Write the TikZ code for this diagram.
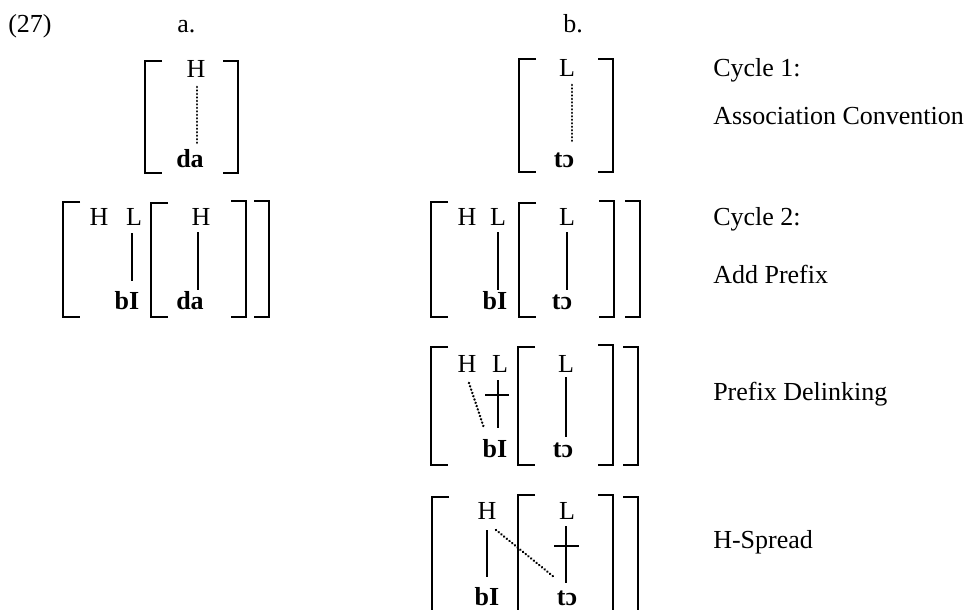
\documentclass[tikz,border=0pt]{standalone}
\usepackage{fontspec}
\setmainfont{Liberation Serif}
\begin{document}
\begin{tikzpicture}[x=0.75pt,y=-0.75pt,
  txt/.style={inner sep=0pt,anchor=base,font=\fontsize{19.5}{22}\selectfont},
  lbl/.style={inner sep=0pt,anchor=base west,font=\fontsize{19.5}{22}\selectfont},
  seg/.style={inner sep=0pt,anchor=base,font=\fontsize{19.5}{22}\selectfont\bfseries},
  brk/.style={line width=1.4pt},
  assoc/.style={line width=1.3pt},
  dots/.style={line width=2pt,line cap=round,dash pattern=on 0.01pt off 2.6pt}]
\useasboundingbox (0,0) rectangle (971,610);
\newcommand\Lbr[3]{\draw[brk] (#1+17,#2) -- (#1,#2) -- (#1,#3) -- (#1+17,#3);}
\newcommand\Rbr[3]{\draw[brk] (#1-15,#2) -- (#1,#2) -- (#1,#3) -- (#1-15,#3);}
% headers
\node[lbl] (ex) at (8,33) {(27)};
\node[lbl] (ha) at (177,33) {a.};
\node[lbl] (hb) at (563,33) {b.};
% ---------- a, row 1
\Lbr{145}{61}{173}\Rbr{238}{61}{173}
\node[txt] (a1H) at (196,78) {H};
\node[seg] (a1da) at (190,167) {da};
\coordinate (a1t) at (197,87); \coordinate (a1b) at (197,145);
\draw[dots] (a1t) -- (a1b);
% ---------- a, row 2
\Lbr{63}{202}{317}\Lbr{151}{203}{317}\Rbr{246}{201}{317}\Rbr{269}{201}{317}
\node[txt] (a2H) at (99,225) {H};
\node[txt] (a2L) at (134,225) {L};
\node[txt] (a2H2) at (201,225) {H};
\node[seg] (a2bI) at (127,309) {bI};
\node[seg] (a2da) at (190,309) {da};
\coordinate (a2Lt) at (132,233); \coordinate (a2Lb) at (132,281);
\coordinate (a2Ht) at (198,232); \coordinate (a2Hb) at (198,290);
\draw[assoc] (a2Lt) -- (a2Lb);
\draw[assoc] (a2Ht) -- (a2Hb);
% ---------- b, row 1
\Lbr{519}{59}{172}\Rbr{613}{59}{172}
\node[txt] (b1L) at (567,77) {L};
\node[seg] (b1to) at (564,167) {tɔ};
\coordinate (b1t) at (572,85); \coordinate (b1b) at (572,143);
\draw[dots] (b1t) -- (b1b);
\node[lbl] (c1) at (713,77) {Cycle 1:};
\node[lbl] (ac) at (713,124) {Association Convention};
% ---------- b, row 2
\Lbr{431}{202}{317}\Lbr{519}{203}{317}\Rbr{614}{201}{317}\Rbr{640}{201}{317}
\node[txt] (b2H) at (467,225) {H};
\node[txt] (b2L) at (498,225) {L};
\node[txt] (b2L2) at (567,225) {L};
\node[seg] (b2bI) at (495,309) {bI};
\node[seg] (b2to) at (562,309) {tɔ};
\coordinate (b2Lt) at (498,232); \coordinate (b2Lb) at (498,290);
\coordinate (b2L2t) at (567,232); \coordinate (b2L2b) at (567,290);
\draw[assoc] (b2Lt) -- (b2Lb);
\draw[assoc] (b2L2t) -- (b2L2b);
\node[lbl] (c2) at (713,225) {Cycle 2:};
\node[lbl] (ap) at (713,283) {Add Prefix};
% ---------- b, row 3
\Lbr{431}{347}{465}\Lbr{518}{347}{465}\Rbr{613}{345}{465}\Rbr{638}{347}{465}
\node[txt] (b3H) at (467,372) {H};
\node[txt] (b3L) at (500,372) {L};
\node[txt] (b3L2) at (566,372) {L};
\node[seg] (b3bI) at (495,457) {bI};
\node[seg] (b3to) at (563,457) {tɔ};
\coordinate (b3Ht) at (469,383); \coordinate (b3Hb) at (484,428);
\coordinate (b3Lt) at (498,380); \coordinate (b3Lb) at (498,428);
\coordinate (b3xl) at (485,395); \coordinate (b3xr) at (509,395);
\coordinate (b3L2t) at (566,377); \coordinate (b3L2b) at (566,437);
\draw[dots] (b3Ht) -- (b3Hb);
\draw[assoc] (b3Lt) -- (b3Lb);
\draw[assoc] (b3xl) -- (b3xr);
\draw[assoc] (b3L2t) -- (b3L2b);
\node[lbl] (pd) at (713,400) {Prefix Delinking};
% ---------- b, row 4
\Lbr{432}{497}{620}\Lbr{518}{495}{620}\Rbr{613}{495}{620}\Rbr{638}{497}{620}
\node[txt] (b4H) at (487,519) {H};
\node[txt] (b4L) at (567,519) {L};
\node[seg] (b4bI) at (487,605) {bI};
\node[seg] (b4to) at (567,605) {tɔ};
\coordinate (b4Ht) at (487,530); \coordinate (b4Hb) at (487,577);
\coordinate (b4Lt) at (566,526); \coordinate (b4Lb) at (566,583);
\coordinate (b4xl) at (554,546); \coordinate (b4xr) at (579,546);
\coordinate (b4dt) at (496,530); \coordinate (b4db) at (554,577);
\draw[assoc] (b4Ht) -- (b4Hb);
\draw[assoc] (b4Lt) -- (b4Lb);
\draw[assoc] (b4xl) -- (b4xr);
\draw[dots] (b4dt) -- (b4db);
\node[lbl] (hs) at (713,548) {H-Spread};
\end{tikzpicture}
\end{document}
